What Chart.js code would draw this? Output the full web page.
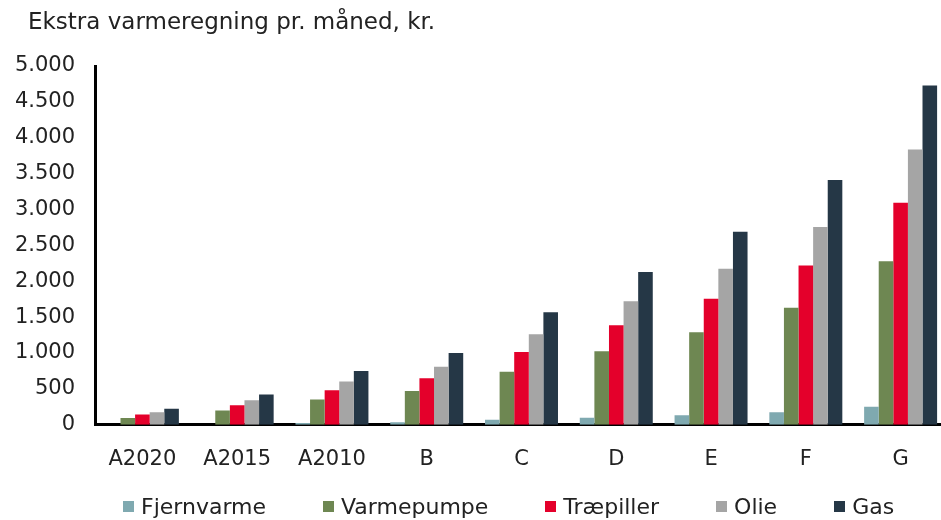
<!DOCTYPE html>
<html>
<head>
<meta charset="utf-8">
<script src="https://cdn.jsdelivr.net/npm/chart.js@4/dist/chart.umd.min.js"></script>
<style>
  html, body { margin: 0; padding: 0; background: #fff; overflow: hidden; }
  #wrap { position: relative; width: 941px; height: 520px; overflow: hidden; font-family: 'DejaVu Sans', sans-serif; color: #222; }
  #title { position: absolute; left: 28px; top: 8px; font-size: 23px; white-space: nowrap; }
  #legend { position: absolute; left: 123px; top: 494px; display: flex; gap: 57px; font-size: 22px; white-space: nowrap; }
  #legend .item { display: flex; align-items: center; }
  #legend .box { width: 11px; height: 11px; margin-right: 7px; }
</style>
</head>
<body>
<div id="wrap">
  <div id="title">Ekstra varmeregning pr. måned, kr.</div>
  <!-- canvas a little wider than the window: the plot area runs past the right edge like the original -->
  <canvas id="chart" width="948" height="520"></canvas>
  <div id="legend"></div>
</div>
<script>
////////////
//// Data

let categories = ['A2020', 'A2015', 'A2010', 'B', 'C', 'D', 'E', 'F', 'G'];

let fjernvarme  = [0, 0, 25, 35, 70, 98, 133, 175, 250];
let varmepumpe  = [95, 199, 352, 470, 740, 1025, 1290, 1630, 2280];
let traepiller  = [143, 273, 483, 650, 1015, 1388, 1755, 2220, 3095];
let olie        = [175, 343, 604, 808, 1262, 1720, 2175, 2755, 3835];
let gas         = [222, 422, 748, 1000, 1570, 2130, 2690, 3410, 4730];

let seriesNames = ['Fjernvarme', 'Varmepumpe', 'Træpiller', 'Olie', 'Gas'];
let COLORS = ['#7FA9B0', '#6E8752', '#E4002B', '#A5A5A5', '#253746'];

////////////
//// Chart

let FONT = 'DejaVu Sans';
let values = [fjernvarme, varmepumpe, traepiller, olie, gas];

let datasets = [];
for (let i = 0; i < seriesNames.length; ++i) {
  datasets.push({
    label: seriesNames[i],
    data: values[i],
    backgroundColor: COLORS[i],
    borderWidth: 0,
    categoryPercentage: 0.77,
    barPercentage: 1.0
  });
}

function formatDK(v) {
  return String(v).replace(/\B(?=(\d{3})+(?!\d))/g, '.');
}

// legend as html, so the spacing can follow the original
let legendDiv = document.getElementById('legend');
for (let i = 0; i < seriesNames.length; ++i) {
  let item = document.createElement('div');
  item.className = 'item';
  let box = document.createElement('span');
  box.className = 'box';
  box.style.background = COLORS[i];
  let txt = document.createElement('span');
  txt.textContent = seriesNames[i];
  item.appendChild(box);
  item.appendChild(txt);
  legendDiv.appendChild(item);
}

let ctx = document.getElementById('chart').getContext('2d');
new Chart(ctx, {
  type: 'bar',
  data: { labels: categories, datasets: datasets },
  options: {
    responsive: false,
    animation: false,
    layout: { padding: { left: 0, right: 0, top: 66, bottom: 34 } },
    plugins: {
      legend: { display: false },
      tooltip: { enabled: false }
    },
    scales: {
      x: {
        grid: { display: false },
        border: { display: true, color: '#000', width: 3 },
        ticks: { color: '#222', font: { family: FONT, size: 21 }, padding: 14 }
      },
      y: {
        min: 0,
        max: 5000,
        afterFit: function (scale) { scale.width = 95; },
        grid: { display: false },
        border: { display: true, color: '#000', width: 3 },
        ticks: {
          stepSize: 500,
          color: '#222',
          padding: 12,
          font: { family: FONT, size: 21 },
          callback: function (v) { return formatDK(v); }
        }
      }
    }
  }
});
</script>
</body>
</html>
